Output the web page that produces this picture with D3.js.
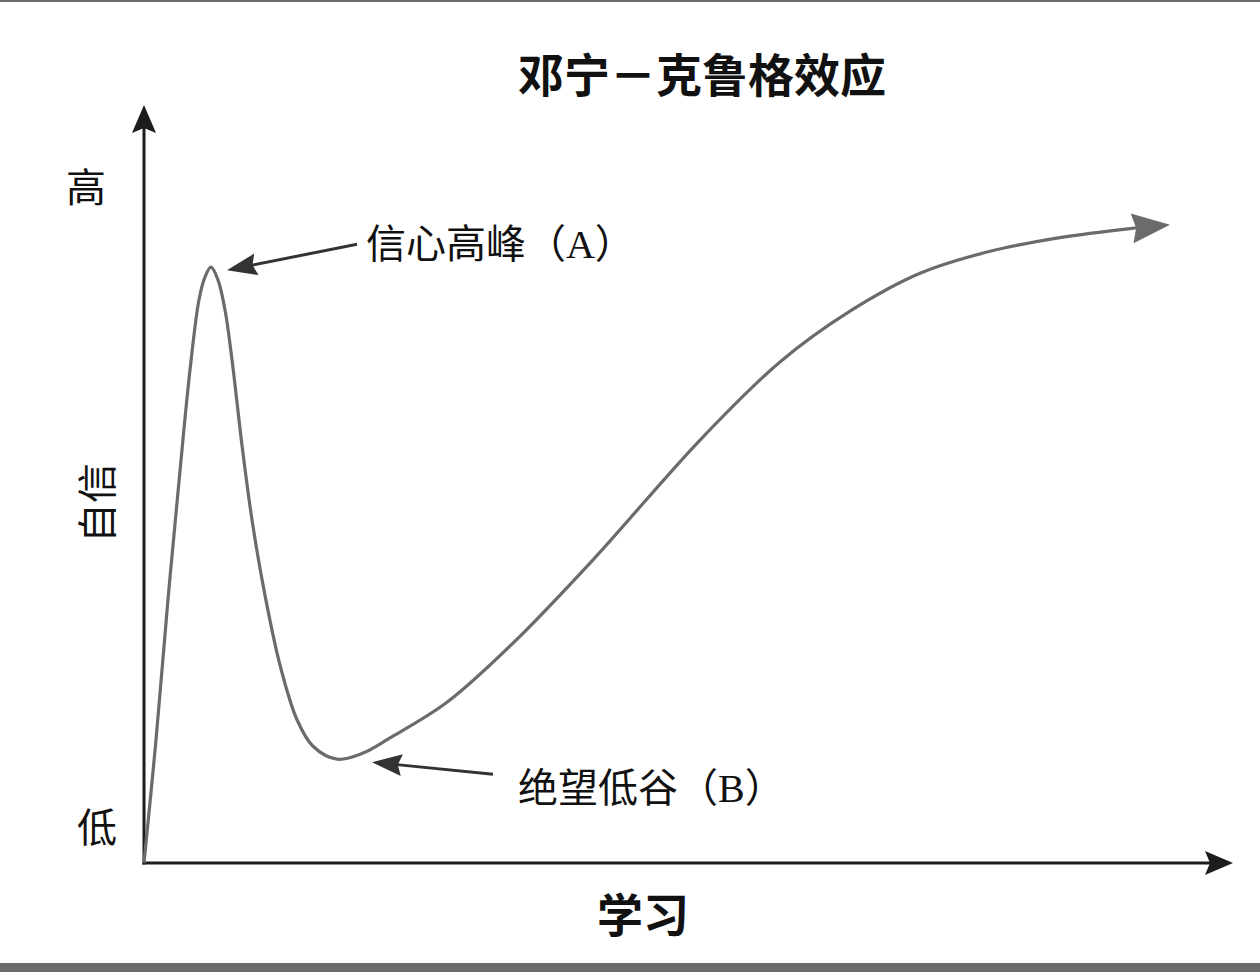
<!DOCTYPE html>
<html><head><meta charset="utf-8">
<script src="https://cdn.jsdelivr.net/npm/d3@7"></script>
<style>html,body{margin:0;padding:0;background:#fff;} svg{display:block}</style>
</head><body>
<script>
// ---- data (learning = x, confidence = y, both 0..100) ----
const learning   = [0, 1.10, 2.20, 3.31, 4.22, 5.05, 5.60, 6.15, 6.80, 7.44, 8.08, 9.00, 9.92, 11.02, 12.49, 14.05, 15.52, 17.72, 20.11, 22.59, 27.82, 33.88, 41.23, 51.06, 58.40, 64.83, 71.26, 77.69, 84.11, 90.54, 93.48];
const confidence = [0, 16.2, 34.7, 51.8, 65.0, 74.3, 77.3, 78.6, 76.9, 72.96, 66.4, 55.1, 45.25, 36.0, 26.1, 18.9, 15.4, 13.7, 14.5, 16.5, 21.2, 29.0, 40.0, 55.8, 66.1, 72.8, 77.8, 80.7, 82.5, 83.7, 84.1];
const titleText = "邓宁－克鲁格效应";
const xAxisLabel = "学习";
const yAxisLabel = "自信";
const yTickLabels = ["低", "高"];
const annotationLabels = ["信心高峰（A）", "绝望低谷（B）"];
const annotationIndex = [7, 17]; // peak, trough

const W = 1260, H = 972;
const svg = d3.select("body").append("svg").attr("width", W).attr("height", H);
svg.append("rect").attr("width", W).attr("height", H).attr("fill", "#fff");
// page edge bands
svg.append("rect").attr("x", 0).attr("y", 0).attr("width", W).attr("height", 2).attr("fill", "#6a6a6a");
svg.append("rect").attr("x", 0).attr("y", 963).attr("width", W).attr("height", 9).attr("fill", "#6b6b6b");

const x = d3.scaleLinear().domain([0, 100]).range([144, 1233]);
const y = d3.scaleLinear().domain([0, 100]).range([863, 105]);

function arrowHead(tx, ty, ang, L, Wd, notch, color) {
  svg.append("path")
    .attr("d", `M0,0 L${-L},${-Wd} L${-L + notch},0 L${-L},${Wd} Z`)
    .attr("fill", color)
    .attr("transform", `translate(${tx},${ty}) rotate(${ang * 180 / Math.PI})`);
}
function arrowLine(x0, y0, x1, y1, L, Wd, notch, color, sw) {
  const ang = Math.atan2(y1 - y0, x1 - x0);
  const back = L - notch - 1;
  svg.append("line").attr("x1", x0).attr("y1", y0)
    .attr("x2", x1 - Math.cos(ang) * back).attr("y2", y1 - Math.sin(ang) * back)
    .attr("stroke", color).attr("stroke-width", sw);
  arrowHead(x1, y1, ang, L, Wd, notch, color);
}

// axes
const axisColor = "#1c1c1c";
arrowLine(x(0), y(0) + 1.5, x(0), y(100), 28, 12, 5, axisColor, 3);
arrowLine(x(0) - 1.5, y(0), x(100), y(0), 28, 12, 5, axisColor, 3);

// curve
const pts = learning.map((v, i) => [x(v), y(confidence[i])]);
const line = d3.line().curve(d3.curveCatmullRom.alpha(0.5));
svg.append("path").attr("d", line(pts))
  .attr("fill", "none").attr("stroke", "#6b6b6b").attr("stroke-width", 3.2)
  .attr("stroke-linejoin", "round");
{
  const a = pts[pts.length - 2], b = pts[pts.length - 1];
  const ang = Math.atan2(b[1] - a[1], b[0] - a[0]);
  arrowHead(b[0] + Math.cos(ang) * 8, b[1] + Math.sin(ang) * 8, ang, 38, 15, 4, "#6b6b6b");
}

// annotations
const annColor = "#333";
const peak = pts[annotationIndex[0]], trough = pts[annotationIndex[1]];
arrowLine(peak[0] + 146, peak[1] - 23, peak[0] + 16, peak[1] + 3, 30, 11, 4, annColor, 3);
arrowLine(trough[0] + 156, trough[1] + 15, trough[0] + 35, trough[1] + 3, 30, 11, 4, annColor, 3);

const labelFont = "'Liberation Serif', 'Noto Sans CJK SC', sans-serif";
svg.append("text").attr("x", peak[0] + 155).attr("y", peak[1] - 9)
  .attr("font-family", labelFont).attr("font-size", 40).attr("fill", "#111")
  .text(annotationLabels[0]);
svg.append("text").attr("x", trough[0] + 181).attr("y", trough[1] + 43)
  .attr("font-family", labelFont).attr("font-size", 40).attr("fill", "#111")
  .text(annotationLabels[1]);

// title
svg.append("text").attr("x", 702).attr("y", 92).attr("text-anchor", "middle")
  .attr("font-family", "'Noto Sans CJK SC', sans-serif").attr("font-weight", 700)
  .attr("font-size", 46).attr("fill", "#111").text(titleText);

// x axis label
svg.append("text").attr("x", 643).attr("y", 932).attr("text-anchor", "middle")
  .attr("font-family", "'Noto Sans CJK SC', sans-serif").attr("font-weight", 700)
  .attr("font-size", 46).attr("fill", "#111").text(xAxisLabel);

// y axis labels
svg.append("text").attr("x", 97).attr("y", 842).attr("text-anchor", "middle")
  .attr("font-family", labelFont).attr("font-size", 40).attr("fill", "#111").text(yTickLabels[0]);
svg.append("text").attr("x", 86).attr("y", 202).attr("text-anchor", "middle")
  .attr("font-family", labelFont).attr("font-size", 40).attr("fill", "#111").text(yTickLabels[1]);
svg.append("text").attr("transform", "translate(112,503) rotate(-90)").attr("text-anchor", "middle")
  .attr("font-family", labelFont).attr("font-size", 40).attr("fill", "#111").text(yAxisLabel);
</script>
</body></html>
